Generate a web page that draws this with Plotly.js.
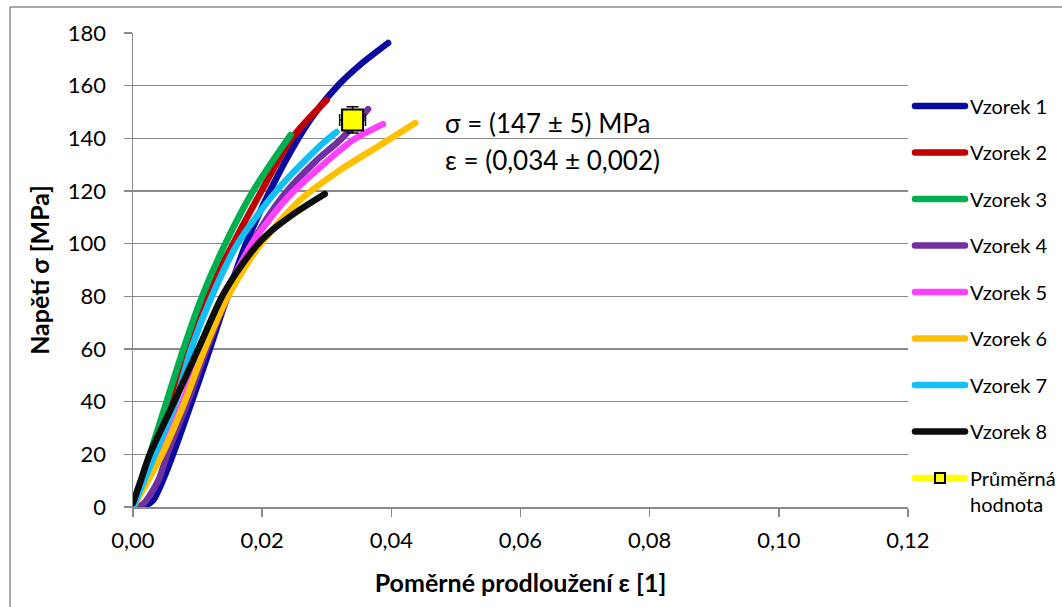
<!DOCTYPE html>
<html>
<head>
<meta charset="utf-8">
<script src="https://cdn.plot.ly/plotly-3.0.1.min.js"></script>
<style>
  html, body { margin: 0; padding: 0; background: #fff; }
  #chart { width: 1062px; height: 607px; }
  .js-line { stroke-linecap: round; stroke-linejoin: round; }
</style>
</head>
<body>
<div id="chart"></div>
<script>
// ---- data (strain [1], stress [MPa]) ----
const seriesNames = ["Vzorek 1", "Vzorek 2", "Vzorek 3", "Vzorek 4", "Vzorek 5", "Vzorek 6", "Vzorek 7", "Vzorek 8"];
const seriesColors = ["#0A0AA0", "#C00000", "#00B050", "#7030A0", "#FF40FF", "#FFC000", "#12C0F5", "#0D0D0D"];

const strain1 = [0, 0.0018, 0.0031, 0.0046, 0.0062, 0.0091, 0.0119, 0.0146, 0.0160, 0.0175, 0.0212, 0.0256, 0.0283, 0.0317, 0.0352, 0.0395];
const stress1 = [0, 0.5, 2.5, 10, 20, 40, 60, 80, 90, 100, 120, 140, 150, 160, 168, 176.2];

const strain2 = [0, 0.0028, 0.0056, 0.0084, 0.0116, 0.0134, 0.0155, 0.0199, 0.0246, 0.0300];
const stress2 = [0, 20, 40, 60, 80, 90, 100, 120, 140, 154.6];

const strain3 = [0, 0.0026, 0.0052, 0.0078, 0.0107, 0.0143, 0.0186, 0.0244];
const stress3 = [0, 20, 40, 60, 80, 100, 120, 141.3];

const strain4 = [0, 0.0015, 0.0039, 0.0053, 0.0085, 0.0114, 0.0147, 0.0184, 0.0231, 0.0285, 0.0321, 0.0364];
const stress4 = [0, 1, 10, 20, 40, 60, 80, 100, 117.7, 131.8, 139.4, 151.1];

const strain5 = [0, 0.0042, 0.0077, 0.0106, 0.0142, 0.0184, 0.0240, 0.0290, 0.0341, 0.0387];
const stress5 = [0, 20, 40, 60, 80, 100, 117.7, 129.1, 139.4, 145.4];

const strain6 = [0, 0.0045, 0.0080, 0.0111, 0.0147, 0.0198, 0.0259, 0.0321, 0.0378, 0.0437];
const stress6 = [0, 20, 40, 60, 80, 100, 116.6, 128, 136.7, 145.8];

const strain7 = [0, 0.0034, 0.0066, 0.0090, 0.0122, 0.0162, 0.0222, 0.0288, 0.0315];
const stress7 = [0, 20, 40, 60, 80, 100, 120, 136.8, 142.4];

const strain8 = [0, 0.0012, 0.0026, 0.0064, 0.0101, 0.0138, 0.0163, 0.0194, 0.0220, 0.0259, 0.0297];
const stress8 = [1.5, 10, 20, 40, 60, 80, 90, 100, 106, 113, 118.9];

const meanName = "Průměrná<br>hodnota";
const meanStrain = [0.034];
const meanStress = [147];
const meanStrainErr = [0.002];
const meanStressErr = [5];

const annotationLines = ["σ = (147 ± 5) MPa", "ε = (0,034 ± 0,002)"];
const xTitle = "Poměrné prodloužení ε [1]";
const yTitle = "Napětí σ [MPa]";

const strains = [strain1, strain2, strain3, strain4, strain5, strain6, strain7, strain8];
const stresses = [stress1, stress2, stress3, stress4, stress5, stress6, stress7, stress8];

// ---- traces ----
const FONT = "Lato, 'Open Sans', sans-serif";
const traces = seriesNames.map((name, i) => ({
  type: "scatter", mode: "lines", name: name,
  x: strains[i], y: stresses[i],
  line: { color: seriesColors[i], width: 6.5, shape: "spline", smoothing: 0.8 },
  legendgroup: "g" + i, hoverinfo: "skip"
}));

// mean point (visible in plot)
traces.push({
  type: "scatter", mode: "markers", name: meanName, showlegend: false,
  x: meanStrain, y: meanStress,
  marker: { symbol: "square", size: 21, color: "#FFFF00", line: { color: "#000", width: 2 } },
  error_y: { type: "data", array: meanStressErr, visible: true, color: "#000", thickness: 1.5, width: 6 },
  error_x: { type: "data", array: meanStrainErr, visible: true, color: "#000", thickness: 1.5, width: 6 },
  hoverinfo: "skip"
});
// legend entry for mean value
traces.push({
  type: "scatter", mode: "lines+markers", name: meanName,
  x: [null], y: [null],
  line: { color: "#FFFF00", width: 6.5 },
  marker: { symbol: "square", size: 10, color: "#FFFF00", line: { color: "#000", width: 2 } },
  legendgroup: "gm"
});

const GRID = "#8A8A8A";
const L = 133, R = 908, T = 33, B = 507;
const pw = R - L, ph = B - T;
const px2paperX = p => (p - L) / pw;
const px2paperY = p => (B - p) / ph;

const layout = {
  width: 1062, height: 607,
  margin: { l: L, r: 1062 - R, t: T, b: 607 - B, autoexpand: false },
  paper_bgcolor: "#fff", plot_bgcolor: "#fff",
  separators: ", ",
  font: { family: FONT, color: "#000" },
  showlegend: true,
  xaxis: {
    range: [0, 0.12], dtick: 0.02, tick0: 0, tickformat: ".2f",
    showgrid: false, zeroline: false,
    showline: true, linecolor: GRID, linewidth: 1.5,
    ticks: "outside", ticklen: 8, tickwidth: 1.5, tickcolor: GRID,
    ticklabelstandoff: 5,
    tickfont: { family: FONT, size: 22, color: "#000" },
    title: { text: xTitle, font: { family: FONT, size: 25, weight: "bold", color: "#000" }, standoff: 22 },
    automargin: false, fixedrange: true
  },
  yaxis: {
    range: [0, 180], dtick: 20, tick0: 0,
    showgrid: true, gridcolor: GRID, gridwidth: 1.5, zeroline: false,
    showline: true, linecolor: GRID, linewidth: 1.5,
    ticks: "outside", ticklen: 8, tickwidth: 1.5, tickcolor: GRID,
    ticklabelstandoff: 13,
    tickfont: { family: FONT, size: 22, color: "#000" },
    title: { text: yTitle, font: { family: FONT, size: 25, weight: "bold", color: "#000" }, standoff: 11 },
    automargin: false, fixedrange: true
  },
  legend: {
    x: px2paperX(910), xanchor: "left",
    y: px2paperY(86.5), yanchor: "top",
    font: { family: FONT, size: 20, color: "#000" },
    itemwidth: 50, tracegroupgap: 17.5, traceorder: "grouped", valign: "top",
    bgcolor: "rgba(0,0,0,0)", borderwidth: 0
  },
  annotations: [
    { xref: "x", yref: "y", x: 0.048, y: 145.8, xanchor: "left", yanchor: "middle", showarrow: false,
      text: annotationLines[0], font: { family: FONT, size: 26, color: "#000" } },
    { xref: "x", yref: "y", x: 0.048, y: 131.8, xanchor: "left", yanchor: "middle", showarrow: false,
      text: annotationLines[1], font: { family: FONT, size: 26, color: "#000" } }
  ],
  shapes: [
    { type: "line", xref: "paper", yref: "paper", x0: px2paperX(10), x1: px2paperX(10), y0: px2paperY(640), y1: px2paperY(7),
      line: { color: "#8C8C8C", width: 1.5 } },
    { type: "line", xref: "paper", yref: "paper", x0: px2paperX(10), x1: px2paperX(1100), y0: px2paperY(7), y1: px2paperY(7),
      line: { color: "#8C8C8C", width: 1.5 } }
  ]
};

Plotly.newPlot("chart", traces, layout, { staticPlot: true, displayModeBar: false });
</script>
</body>
</html>
